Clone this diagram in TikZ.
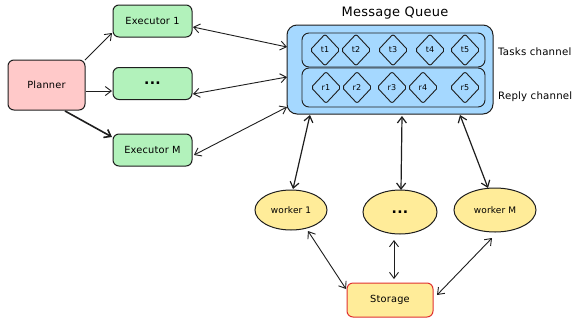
\documentclass[tikz,border=0pt]{standalone}
\usepackage{fontspec}
\setmainfont{DejaVu Sans}[LetterSpace=2]
\usetikzlibrary{arrows.meta,shapes.geometric}
\definecolor{ink}{HTML}{1E1E1E}
\definecolor{pinkfill}{HTML}{FFC9C9}
\definecolor{greenfill}{HTML}{B2F2BB}
\definecolor{bluefill}{HTML}{A5D8FF}
\definecolor{yellowfill}{HTML}{FFEC99}
\definecolor{redline}{HTML}{E03131}
\tikzset{
  box/.style={draw=ink, line width=1pt, rounded corners=6pt, inner sep=0pt, font=\fontsize{9.8}{11}\selectfont},
  execbox/.style={box, fill=greenfill, minimum width=79pt, minimum height=32pt},
  dots/.style={font=\bfseries\fontsize{14}{15}\selectfont},
  workerell/.style={ellipse, draw=ink, line width=1pt, fill=yellowfill, inner sep=0pt, font=\fontsize{9}{10}\selectfont},
  chan/.style={draw=ink, line width=0.9pt, rounded corners=7pt, inner sep=0pt, minimum width=183pt},
  msg/.style={diamond, draw=ink, line width=0.9pt, rounded corners=2pt, inner sep=0pt, minimum width=30pt, minimum height=32pt, font=\fontsize{8}{9}\selectfont},
  link/.style={draw=ink, line width=0.9pt, -{Straight Barb[length=6pt,width=9pt]}},
  dlink/.style={draw=ink, line width=0.9pt, {Straight Barb[length=6pt,width=9pt]}-{Straight Barb[length=6pt,width=9pt]}},
  sidelabel/.style={anchor=west, inner sep=0pt, font=\fontsize{10.2}{12}\selectfont}
}
\begin{document}
\begin{tikzpicture}[x=1pt, y=-1pt]
\useasboundingbox[fill=white] (0,0) rectangle (573,325);

% planner and executors
\node[box, fill=pinkfill, minimum width=77pt, minimum height=50pt] (planner) at (46.5,85) {Planner};
\node[execbox] (exec1) at (152.5,21) {Executor 1};
\node[execbox, dots] (execdots) at (152.5,83.5) {...};
\node[execbox] (execM) at (152.5,150) {Executor M};

% message queue with its two channels
\node[draw=ink, line width=1pt, fill=bluefill, rounded corners=10pt, minimum width=206pt, minimum height=89pt] (mq) at (390,69.5) {};
\node[font=\fontsize{13}{15}\selectfont] (mqtitle) at (395,13) {Message Queue};
\node[chan, minimum height=34pt] (tasks) at (393.5,50) {};
\node[chan, minimum height=39pt] (reply) at (393.5,87.5) {};
\foreach \n/\x in {1/325,2/356,3/393,4/430,5/465}
  \node[msg] (t\n) at (\x,50) {t\n};
\foreach \n/\x in {1/326,2/357,3/392,4/423,5/465}
  \node[msg] (r\n) at (\x,87.5) {r\n};
\node[sidelabel] (tasklabel) at (498,52) {Tasks channel};
\node[sidelabel] (replylabel) at (498,97) {Reply channel};

% workers and storage
\node[workerell, minimum width=72pt, minimum height=40pt] (w1) at (291,210) {worker 1};
\node[workerell, dots, minimum width=74pt, minimum height=44pt] (wdots) at (400,212) {...};
\node[workerell, minimum width=82pt, minimum height=44pt] (wM) at (495,210) {worker M};
\node[box, draw=redline, fill=yellowfill, minimum width=86pt, minimum height=34pt] (storage) at (390,300) {Storage};

% connector end points on the boxes
\coordinate (pA) at (85,60);
\coordinate (pB) at (86,91);
\coordinate (pC) at (65,111);
\coordinate (e1a) at (112,33);
\coordinate (e2a) at (112,91);
\coordinate (e3a) at (112,137);
\coordinate (e1b) at (193,27);
\coordinate (e2b) at (193,94);
\coordinate (e3b) at (194,155);
\coordinate (m1) at (287,47);
\coordinate (m2) at (287,77);
\coordinate (m3) at (287,107);
\coordinate (mw1) at (310,115);
\coordinate (mw2) at (402,116);
\coordinate (mw3) at (460,115);
\coordinate (w1t) at (293,189);
\coordinate (w2t) at (401,190);
\coordinate (w3t) at (488,188);
\coordinate (w1b) at (308,231);
\coordinate (w2b) at (394,240);
\coordinate (w3b) at (492,238);
\coordinate (s1) at (346,289);
\coordinate (s2) at (394,279);
\coordinate (s3) at (437,295);

% planner fans out to the executors
\draw[link] (pA) -- (e1a);
\draw[link] (pB) -- (e2a);
\draw[link, line width=1.6pt] (pC) -- (e3a);

% executors talk to the queue
\draw[dlink] (e1b) -- (m1);
\draw[dlink] (e2b) -- (m2);
\draw[dlink] (e3b) -- (m3);

% queue talks to the workers
\draw[dlink, line width=1.2pt] (mw1) -- (w1t);
\draw[dlink, line width=1.2pt] (mw2) -- (w2t);
\draw[dlink, line width=1.2pt] (mw3) -- (w3t);

% workers share the storage
\draw[dlink] (w1b) -- (s1);
\draw[dlink] (w2b) -- (s2);
\draw[dlink] (w3b) -- (s3);
\end{tikzpicture}
\end{document}
